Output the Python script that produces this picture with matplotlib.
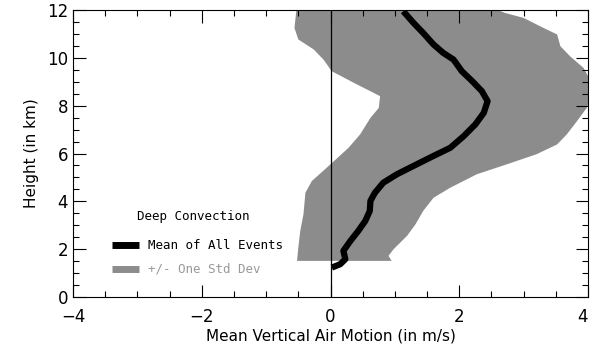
import numpy as np
import matplotlib
matplotlib.use("Agg")
import matplotlib.pyplot as plt
from matplotlib.ticker import MultipleLocator

# --- DATOS ---
mean_x = [1.13, 1.29, 1.44, 1.60, 1.75, 1.91, 2.04, 2.20, 2.35, 2.44, 2.38, 2.25,
          2.07, 1.86, 1.60, 1.34, 1.03, 0.82, 0.69, 0.62, 0.61, 0.54, 0.43, 0.31,
          0.20, 0.23, 0.15, 0.02]
mean_y = [11.95, 11.46, 11.04, 10.56, 10.21, 9.93, 9.44, 9.03, 8.61, 8.19, 7.70, 7.22,
          6.73, 6.24, 5.90, 5.55, 5.13, 4.78, 4.36, 4.02, 3.60, 3.18, 2.76, 2.35,
          1.93, 1.58, 1.37, 1.23]

# borde izquierdo de la banda (de arriba a abajo)
left_x = [-0.53, -0.56, -0.50, -0.26, -0.11, 0.02, 0.41, 0.77, 0.75, 0.62, 0.46,
          0.28, 0.00, -0.29, -0.39, -0.42, -0.47, -0.50, -0.52]
left_y = [12.0, 11.25, 10.77, 10.35, 9.93, 9.44, 8.89, 8.40, 7.91, 7.49, 6.80,
          6.24, 5.55, 4.85, 4.36, 3.46, 2.76, 2.07, 1.51]
# borde derecho de la banda (de abajo a arriba)
right_x = [0.95, 0.90, 0.98, 1.19, 1.32, 1.44, 1.60, 1.86, 2.27, 2.74, 3.20, 3.52,
           3.67, 3.83, 3.98, 4.10, 3.93, 3.72, 3.57, 3.52, 3.31, 3.00, 2.71, 2.60]
right_y = [1.51, 1.72, 2.00, 2.56, 3.04, 3.60, 4.15, 4.57, 5.13, 5.55, 5.97, 6.38,
           6.80, 7.36, 7.91, 8.75, 9.58, 10.07, 10.49, 10.98, 11.25, 11.67, 11.88, 12.0]

x_ticks = [-4, -2, 0, 2, 4]
y_ticks = [0, 2, 4, 6, 8, 10, 12]

GRIS = "#8c8c8c"

fig = plt.figure(figsize=(5.91, 3.48), dpi=100)
ax = fig.add_axes([0.1235, 0.1466, 0.8715, 0.8245])

band_x = left_x + right_x
band_y = left_y + right_y
ax.fill(band_x, band_y, color=GRIS, lw=0, zorder=1)
ax.axvline(0, color="black", lw=0.9, zorder=2)
ax.plot(mean_x, mean_y, color="black", lw=4.5, solid_capstyle="butt", zorder=3)

ax.set_xlim(-4, 4)
ax.set_ylim(0, 12)
ax.set_xticks(x_ticks)
ax.set_yticks(y_ticks)
ax.xaxis.set_minor_locator(MultipleLocator(0.5))
ax.yaxis.set_minor_locator(MultipleLocator(0.5))
ax.tick_params(which="both", direction="in", top=True, right=True, width=0.8, labelsize=12)
ax.tick_params(which="major", length=9)
ax.tick_params(which="minor", length=4)
ax.tick_params(axis="x", pad=8)
for s in ax.spines.values():
    s.set_linewidth(0.8)

etiquetas = ax.get_xticklabels()
etiquetas[-1].set_horizontalalignment("right")

ax.set_xlabel("Mean Vertical Air Motion (in m/s)", fontsize=11, labelpad=2)
ax.set_ylabel("Height (in km)", fontsize=11, labelpad=6)

# leyenda manual
mono = "DejaVu Sans Mono"
ax.text(-3.0, 3.35, "Deep Convection", fontsize=9, family=mono, va="center")
ax.plot([-3.4, -2.97], [2.17, 2.17], color="black", lw=5, solid_capstyle="butt")
ax.text(-2.83, 2.17, "Mean of All Events", fontsize=9, family=mono, va="center")
ax.plot([-3.4, -2.97], [1.17, 1.17], color=GRIS, lw=5, solid_capstyle="butt")
ax.text(-2.83, 1.17, "+/- One Std Dev", fontsize=9, family=mono, va="center", color="#999999")

fig.savefig("out.png", dpi=100)
